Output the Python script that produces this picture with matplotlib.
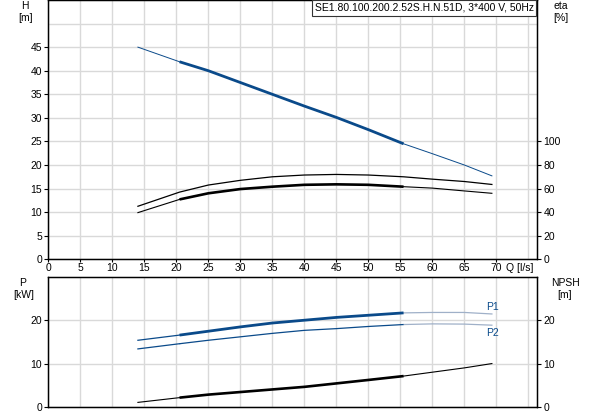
import matplotlib
matplotlib.use("Agg")
import matplotlib.pyplot as plt
from matplotlib.patches import Rectangle

plt.rcParams['font.family'] = ['Liberation Sans', 'DejaVu Sans']
plt.rcParams['font.size'] = 7.5

# flow points (l/s)
q = [14, 20.5, 25, 30, 35, 40, 45, 50, 55.5, 60, 65, 69.3]
head = [45.0, 41.9, 40.0, 37.5, 35.0, 32.5, 30.1, 27.5, 24.5, 22.4, 20.0, 17.7]
eta_pump = [45, 57, 63, 67, 70, 71.5, 72, 71.5, 70, 68, 66, 63.5]
eta_total = [39.6, 50.8, 56, 59.6, 61.6, 63.2, 63.6, 63.2, 61.6, 60.4, 58, 56]
p1 = [15.4, 16.6, 17.5, 18.5, 19.4, 20.05, 20.7, 21.2, 21.75, 21.85, 21.85, 21.5]
p2 = [13.4, 14.6, 15.4, 16.2, 17.0, 17.7, 18.1, 18.6, 19.05, 19.2, 19.15, 18.9]
npsh = [1.0, 2.1, 2.8, 3.4, 4.0, 4.6, 5.4, 6.2, 7.1, 8.0, 9.0, 10.0]

x_ticks = list(range(0, 75, 5))
h_ticks = list(range(0, 50, 5))
eta_ticks = list(range(0, 120, 20))
p_ticks = [0, 10, 20]
title = "SE1.80.100.200.2.52S.H.N.51D, 3*400 V, 50Hz"

BLUE = '#0a4a8a'
LIGHT = '#9fb0c8'
GRID = '#d9d9d9'
W, H = 593, 415
lo, hi = 1, 9  # thick (duty range) section: indices lo..hi-1

fig = plt.figure(figsize=(W / 100, H / 100), dpi=100)
ax1 = fig.add_axes([48.3 / W, 1 - 259.3 / H, (536.7 - 48.3) / W, 259.3 / H])
ax2 = fig.add_axes([48.3 / W, 1 - 406.7 / H, (536.7 - 48.3) / W, (406.7 - 277.3) / H])


def segmented(ax, y, color, tail_color=None, thin=0.8, thick=1.9):
    ax.plot(q[:lo + 1], y[:lo + 1], color=color, lw=thin, zorder=3)
    ax.plot(q[lo:hi], y[lo:hi], color=color, lw=thick, zorder=4,
            solid_capstyle='butt')
    ax.plot(q[hi - 1:], y[hi - 1:], color=tail_color or color, lw=thin, zorder=3)


for ax in (ax1, ax2):
    ax.set_xlim(0, 76.3)
    ax.set_xticks(x_ticks)
    ax.set_xticks([75], minor=True)
    ax.grid(True, which='both', color=GRID, lw=1.0, zorder=0)
    ax.set_axisbelow(True)
    ax.tick_params(which='both', direction='out', length=3, width=0.8, pad=1.5)
    ax.tick_params(axis='x', length=2, pad=1)
    ax.tick_params(which='minor', length=0)
    for s in ax.spines.values():
        s.set_linewidth(1.0)

# --- top: head + efficiency
ax1.set_ylim(0, 55)
ax1.set_yticks(h_ticks)
ax1.set_yticks([50], minor=True)
segmented(ax1, head, BLUE, thin=0.7, thick=2.0)

ax1r = ax1.twinx()
ax1r.set_ylim(0, 220)
ax1r.set_yticks(eta_ticks)
ax1r.tick_params(direction='out', length=3, width=0.8, pad=2)
ax1r.plot(q, eta_pump, color='black', lw=0.9, zorder=3)
segmented(ax1r, eta_total, 'black', thin=0.8, thick=1.9)
ax1.text(71.5, -0.014, "Q [l/s]", transform=ax1.get_xaxis_transform(),
         ha='left', va='top')

# --- bottom: power + NPSH
ax2.set_ylim(0, 30)
ax2.set_yticks(p_ticks)
ax2.tick_params(axis='x', which='both', bottom=False, labelbottom=False)
segmented(ax2, p1, BLUE, tail_color=LIGHT, thin=0.9, thick=2.0)
segmented(ax2, p2, BLUE, tail_color=LIGHT, thin=0.9, thick=0.9)
ax2.text(q[-1] - 0.9, p1[-1] + 0.4, "P1", color=BLUE, ha='left', va='bottom')
ax2.text(q[-1] - 0.9, p2[-1] - 0.6, "P2", color=BLUE, ha='left', va='top')

ax2r = ax2.twinx()
ax2r.set_ylim(0, 30)
ax2r.set_yticks(p_ticks)
ax2r.tick_params(direction='out', length=3, width=0.8, pad=2)
segmented(ax2r, npsh, 'black', thin=0.8, thick=1.9)

# axis captions
fig.text(25 / W, 1 - 6 / H, "H", ha='center', va='center')
fig.text(26 / W, 1 - 18 / H, "[m]", ha='center', va='center')
fig.text(561 / W, 1 - 6 / H, "eta", ha='center', va='center')
fig.text(561 / W, 1 - 18 / H, "[%]", ha='center', va='center')
fig.text(23 / W, 1 - 283 / H, "P", ha='center', va='center')
fig.text(24 / W, 1 - 295 / H, "[kW]", ha='center', va='center')
fig.text(565 / W, 1 - 283 / H, "NPSH", ha='center', va='center')
fig.text(565 / W, 1 - 295 / H, "[m]", ha='center', va='center')

# title box
fig.patches.append(Rectangle((311.7 / W, 1 - 15.7 / H), (535.7 - 311.7) / W, 15.7 / H,
                             transform=fig.transFigure, fill=True, facecolor='white',
                             edgecolor='#333333', lw=0.8, zorder=5))
fig.text(315 / W, 1 - 8 / H, title, ha='left', va='center', zorder=6)

fig.savefig("out.png", dpi=100)
